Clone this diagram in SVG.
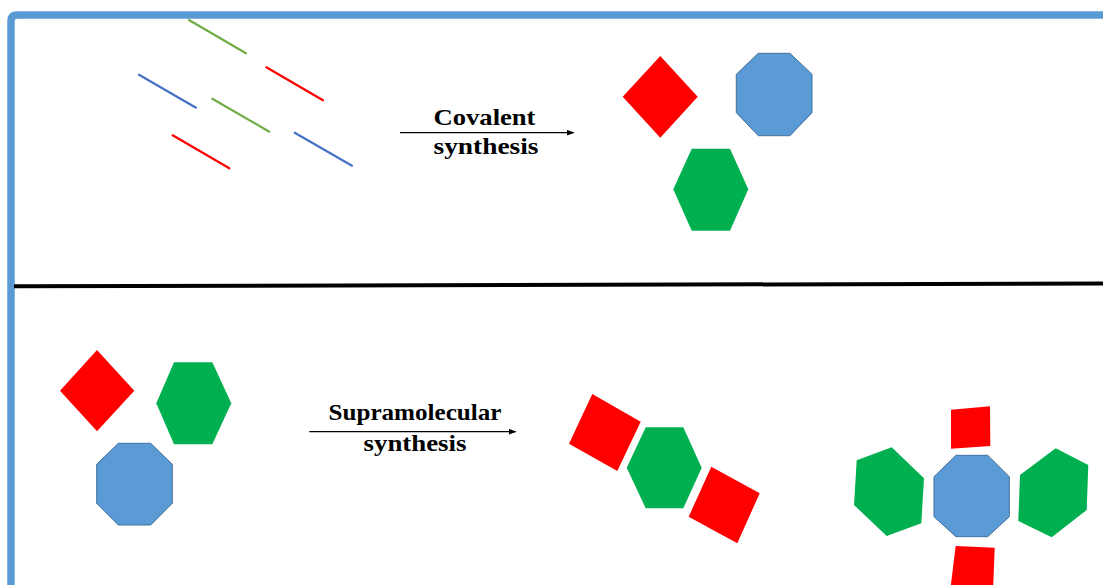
<svg xmlns="http://www.w3.org/2000/svg" width="1103" height="585" viewBox="0 0 1103 585">
  <style>
    .frame { fill: none; stroke: #5B9BD5; stroke-width: 7.5; stroke-linejoin: round; }
    .divider { stroke: #000; stroke-width: 4; }
    .bond { stroke-width: 2.2; stroke-linecap: round; }
    .g { stroke: #70AD47; }
    .r { stroke: #FF0000; }
    .b { stroke: #4472C4; }
    .sq { fill: #FF0000; }
    .hex { fill: #00B050; }
    .oct { fill: #5B9BD5; stroke: #41719C; stroke-width: 1; }
    .arrow { stroke: #000; stroke-width: 1.3; fill: none; }
    .label { font-family: "Liberation Serif", "Times New Roman", serif; font-weight: bold; font-size: 23px; fill: #000; text-anchor: middle; }
  </style>
  <defs>
    <marker id="head" markerWidth="8" markerHeight="6" refX="7" refY="3" orient="auto" markerUnits="userSpaceOnUse">
      <path d="M0,0 L8,3 L0,6 Z" fill="#000"/>
    </marker>
  </defs>

  <rect width="1103" height="585" fill="#fff"/>

  <!-- outer frame and panel divider -->
  <path class="frame" d="M11,595 L11,21 Q11,15 17,15 L1110,15"/>
  <line class="divider" x1="14" y1="286.3" x2="1103" y2="283.5"/>

  <!-- starting building blocks: short bonds -->
  <g id="bonds">
    <line class="bond g" x1="189" y1="20" x2="246" y2="53.3"/>
    <line class="bond r" x1="266.3" y1="67.3" x2="323" y2="100.3"/>
    <line class="bond b" x1="139" y1="74.7" x2="196" y2="107.7"/>
    <line class="bond g" x1="212.3" y1="98.7" x2="269.3" y2="131.7"/>
    <line class="bond r" x1="172.7" y1="135.3" x2="229.3" y2="168.3"/>
    <line class="bond b" x1="294.7" y1="132.7" x2="352" y2="165.7"/>
  </g>

  <!-- reaction arrows -->
  <g id="connectors">
    <line class="arrow" x1="400" y1="132.7" x2="573.5" y2="132.7" marker-end="url(#head)"/>
    <line class="arrow" x1="309.3" y1="431.7" x2="515.5" y2="431.7" marker-end="url(#head)"/>
  </g>

  <g id="covalent-label">
    <text class="label" x="484.5" y="125" textLength="102" lengthAdjust="spacingAndGlyphs">Covalent</text>
    <text class="label" x="486" y="153.5" textLength="105" lengthAdjust="spacingAndGlyphs">synthesis</text>
  </g>

  <g id="supramolecular-label">
    <text class="label" x="415" y="420" textLength="173" lengthAdjust="spacingAndGlyphs">Supramolecular</text>
    <text class="label" x="415" y="450.7" textLength="103" lengthAdjust="spacingAndGlyphs">synthesis</text>
  </g>

  <!-- covalent products -->
  <g id="cov-diamond">
    <polygon class="sq" points="660.3,56 697.7,96.7 660.3,137.7 622.7,96.7"/>
  </g>
  <g id="cov-octagon">
    <polygon class="oct" points="758.3,53.3 790,53.3 812,74.3 812,112.7 790,135.7 758.3,135.7 736.3,112.7 736.3,74.3"/>
  </g>
  <g id="cov-hexagon">
    <polygon class="hex" points="691.7,148.7 730,148.7 748.3,189.3 730,230.7 691.7,230.7 673.3,189.3"/>
  </g>

  <!-- supramolecular reactants -->
  <g id="sup-diamond">
    <polygon class="sq" points="97,350 134.3,390.7 97,431.3 60,390.7"/>
  </g>
  <g id="sup-hexagon">
    <polygon class="hex" points="174,362.3 212.3,362.3 231.3,403.3 212.3,444.3 174,444.3 156.3,403.3"/>
  </g>
  <g id="sup-octagon">
    <polygon class="oct" points="118.3,443.3 150.7,443.3 172.3,464.3 172.3,503.3 150.7,525 118.3,525 96.7,503.3 96.7,464.3"/>
  </g>

  <!-- linear assembly -->
  <g id="chain-square-1">
    <polygon class="sq" points="592.3,394 640.7,421.7 617.3,471 569,443.7"/>
  </g>
  <g id="chain-hexagon">
    <polygon class="hex" points="645.7,427.3 683.3,427.3 701.7,467.7 683.3,508.3 645.7,508.3 626.7,467.7"/>
  </g>
  <g id="chain-square-2">
    <polygon class="sq" points="711.3,466.7 759.7,493.3 737.3,543.3 688.7,516.7"/>
  </g>

  <!-- cross-shaped assembly -->
  <g id="cross-square-top">
    <polygon class="sq" points="951,409.7 990,406.3 990.3,446 951,448.7"/>
  </g>
  <g id="cross-hexagon-left">
    <polygon class="hex" points="891.7,447.3 924,478.3 921.3,523.3 886.7,536 854,505 856.7,460.3"/>
  </g>
  <g id="cross-octagon">
    <polygon class="oct" points="956,455.3 987.7,455.3 1009.3,476.7 1009.3,516.7 987.7,536.7 956,536.7 934,516.7 934,476.7"/>
  </g>
  <g id="cross-hexagon-right">
    <polygon class="hex" points="1055.7,448.3 1088.3,465 1086.7,510 1051.7,537.3 1018.3,521 1020,475"/>
  </g>
  <g id="cross-square-bottom">
    <polygon class="sq" points="955.7,546 994.7,547.7 993,592 950,592"/>
  </g>
</svg>
